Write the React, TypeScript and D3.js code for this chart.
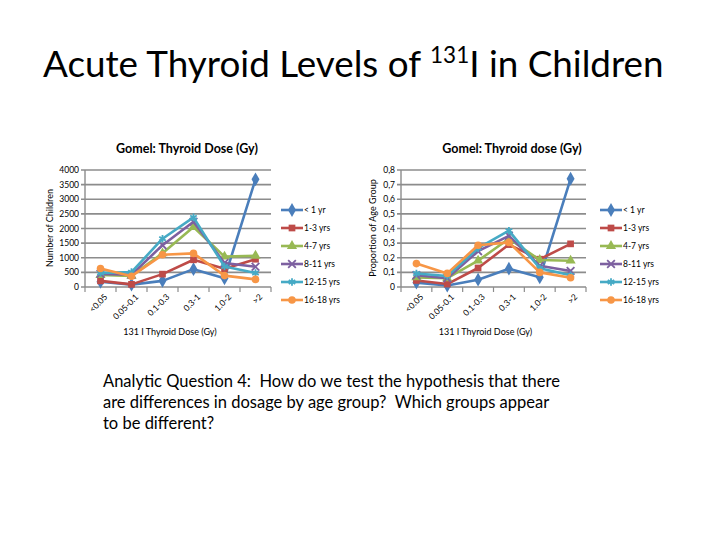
import React from 'react';
import * as d3 from 'd3';

// Dose categories (Gy) and age-group series
const doseBins = ['<0.05', '0.05-0.1', '0.1-0.3', '0.3-1', '1.0-2', '>2'];
const ageGroups = ['< 1 yr', '1-3 yrs', '4-7 yrs', '8-11 yrs', '12-15 yrs', '16-18 yrs'];

// Left chart: number of children
const countLt1 = [180, 80, 210, 610, 300, 3680];
const count1to3 = [210, 90, 440, 930, 620, 950];
const count4to7 = [410, 380, 1150, 2050, 1040, 1070];
const count8to11 = [450, 420, 1430, 2230, 820, 690];
const count12to15 = [480, 510, 1650, 2380, 700, 480];
const count16to18 = [630, 370, 1100, 1150, 390, 260];

// Right chart: proportion of age group
const propLt1 = [0.03, 0.01, 0.05, 0.125, 0.066, 0.74];
const prop1to3 = [0.045, 0.02, 0.13, 0.29, 0.19, 0.295];
const prop4to7 = [0.066, 0.06, 0.18, 0.33, 0.185, 0.18];
const prop8to11 = [0.08, 0.06, 0.245, 0.35, 0.145, 0.11];
const prop12to15 = [0.092, 0.075, 0.265, 0.385, 0.128, 0.08];
const prop16to18 = [0.16, 0.093, 0.285, 0.305, 0.1, 0.063];

const countTicks = [0, 500, 1000, 1500, 2000, 2500, 3000, 3500, 4000];
const propTicks = [0, 0.1, 0.2, 0.3, 0.4, 0.5, 0.6, 0.7, 0.8];

const colors = ['#4A7EBB', '#BE4B48', '#98B954', '#7D60A0', '#46AAC5', '#F79646'];
const symbols = [d3.symbolDiamond, d3.symbolSquare, d3.symbolTriangle, d3.symbolTimes, d3.symbolAsterisk, d3.symbolCircle];
const stroked = [false, false, false, true, true, false];

const FONT = 'Lato, "Open Sans", sans-serif';

function Marker({ i, x, y }: { i: number; x: number; y: number }) {
  const size = stroked[i] ? 40 : i === 0 ? 55 : 45;
  const d = d3.symbol(symbols[i], size)() as string;
  return (
    <path
      d={d}
      transform={`translate(${x},${y})`}
      fill={stroked[i] ? 'none' : colors[i]}
      stroke={colors[i]}
      strokeWidth={stroked[i] ? 1.8 : 0}
    />
  );
}

interface PanelProps {
  series: number[][];
  ticks: number[];
  fmt: (v: number) => string;
  left: number;
  right: number;
  title: string;
  titleX: number;
  yTitle: string;
  yTitleX: number;
  legendX: number;
}

function Panel({ series, ticks, fmt, left, right, title, titleX, yTitle, yTitleX, legendX }: PanelProps) {
  const top = 170;
  const bottom = 287;
  const x = d3.scaleBand<string>().domain(doseBins).range([left, right]).padding(0);
  const y = d3.scaleLinear().domain([0, ticks[ticks.length - 1]]).range([bottom, top]);
  const line = d3
    .line<number>()
    .x((_, i) => x(doseBins[i])! + x.bandwidth() / 2)
    .y((d) => y(d));
  const cx = (left + right) / 2;

  return (
    <g fontFamily={FONT}>
      <text x={titleX} y={153} textAnchor="middle" fontSize={12.5} fontWeight="bold" fill="#000">
        {title}
      </text>
      {/* gridlines */}
      {ticks.map((t) => (
        <g key={t}>
          <line x1={left - 4} x2={right} y1={y(t)} y2={y(t)} stroke="#8C8C8C" strokeWidth={1.6} />
          <text x={left - 6} y={y(t) + 3} textAnchor="end" fontSize={8.5} fill="#000">
            {fmt(t)}
          </text>
        </g>
      ))}
      <line x1={left} x2={left} y1={top} y2={bottom} stroke="#8C8C8C" strokeWidth={1.4} />
      {/* category ticks */}
      {doseBins.map((b) => (
        <line key={b} x1={x(b)!} x2={x(b)!} y1={bottom} y2={bottom + 5} stroke="#8C8C8C" strokeWidth={1.2} />
      ))}
      <line x1={right} x2={right} y1={bottom} y2={bottom + 5} stroke="#8C8C8C" strokeWidth={1.2} />
      {doseBins.map((b) => {
        const tx = x(b)! + x.bandwidth() / 2 + 3;
        const ty = bottom + 6;
        return (
          <text
            key={b}
            x={tx}
            y={ty}
            transform={`rotate(-45,${tx},${ty})`}
            textAnchor="end"
            dominantBaseline="hanging"
            fontSize={8.5}
            fill="#000"
          >
            {b}
          </text>
        );
      })}
      <text x={cx - 8} y={335} textAnchor="middle" fontSize={9} fill="#000">
        131 I Thyroid Dose (Gy)
      </text>
      <text
        x={yTitleX}
        y={228}
        transform={`rotate(-90,${yTitleX},228)`}
        textAnchor="middle"
        fontSize={9}
        fill="#000"
      >
        {yTitle}
      </text>
      {/* series */}
      {series.map((s, i) => (
        <g key={i}>
          <path d={line(s) as string} fill="none" stroke={colors[i]} strokeWidth={2.6} strokeLinejoin="round" />
          {s.map((v, j) => (
            <Marker key={j} i={i} x={x(doseBins[j])! + x.bandwidth() / 2} y={y(v)} />
          ))}
        </g>
      ))}
      {/* legend */}
      {ageGroups.map((g, i) => {
        const ly = 210 + i * 18;
        return (
          <g key={g}>
            <line x1={legendX} x2={legendX + 22} y1={ly} y2={ly} stroke={colors[i]} strokeWidth={2.6} />
            <Marker i={i} x={legendX + 11} y={ly} />
            <text x={legendX + 23} y={ly + 3} fontSize={8.5} fill="#000">
              {g}
            </text>
          </g>
        );
      })}
    </g>
  );
}

export default function App() {
  return (
    <div style={{ position: 'absolute', left: 0, top: 0 }}>
      <svg width={720} height={540} style={{ display: 'block', background: '#fff' }}>
        <text x={43} y={77} fontFamily={FONT} fontSize={36.8} fill="#000">
          Acute Thyroid Levels of
          <tspan dx={9} dy={-14} fontSize={22.5}>131</tspan>
          <tspan dy={14}>I in Children</tspan>
        </text>
        <Panel
          series={[countLt1, count1to3, count4to7, count8to11, count12to15, count16to18]}
          ticks={countTicks}
          fmt={(v) => String(v)}
          left={85}
          right={271}
          title="Gomel: Thyroid Dose (Gy)"
          titleX={187}
          yTitle="Number of Children"
          yTitleX={53}
          legendX={281}
        />
        <Panel
          series={[propLt1, prop1to3, prop4to7, prop8to11, prop12to15, prop16to18]}
          ticks={propTicks}
          fmt={(v) => (v === 0 ? '0' : d3.format('.1f')(v).replace('.', ','))}
          left={401}
          right={586}
          title="Gomel: Thyroid dose (Gy)"
          titleX={512}
          yTitle="Proportion of Age Group"
          yTitleX={376}
          legendX={600}
        />
        <text fontFamily={FONT} fontSize={16.5} fill="#000" style={{ whiteSpace: 'pre' }}>
          <tspan x={103} y={387}>Analytic Question 4:  How do we test the hypothesis that there</tspan>
          <tspan x={103} y={408}>are differences in dosage by age group?  Which groups appear</tspan>
          <tspan x={103} y={429}>to be different?</tspan>
        </text>
      </svg>
    </div>
  );
}
